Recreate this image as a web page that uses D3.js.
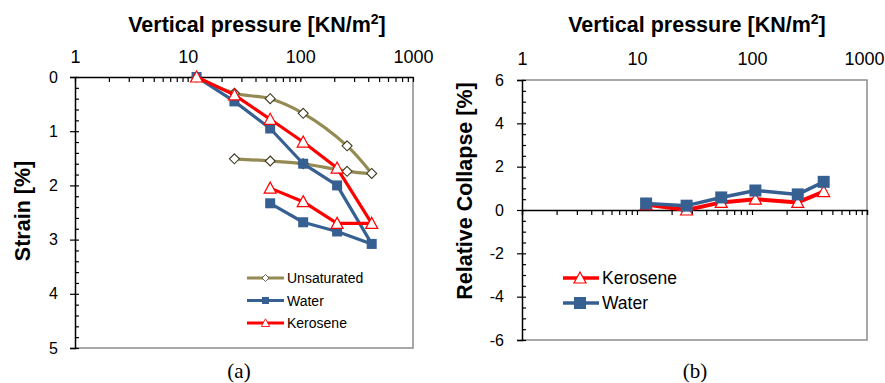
<!DOCTYPE html>
<html>
<head>
<meta charset="utf-8">
<script src="https://cdn.jsdelivr.net/npm/d3@7"></script>
<style>
  body { margin: 0; background: #fff; }
  svg { font-family: "Liberation Sans", Arial, sans-serif; }
</style>
</head>
<body>
<div id="chart"></div>
<script>
// ---- data ----
const unsatPressure = [12, 26, 54, 106, 260, 430, 260, 106, 54, 26];
const unsatStrain   = [0, 0.3, 0.4, 0.67, 1.27, 1.78, 1.74, 1.6, 1.55, 1.51];

const waterPressure = [12, 26, 54, 106, 212, 430, 212, 106, 54];
const waterStrain   = [0, 0.45, 0.95, 1.6, 2.0, 3.08, 2.85, 2.68, 2.33];

const keroPressure  = [12, 26, 54, 106, 212, 430, 212, 106, 54];
const keroStrain    = [0, 0.33, 0.78, 1.2, 1.68, 2.7, 2.7, 2.3, 2.05];

const collapsePressure = [12, 27, 54, 107, 250, 420];
const collapseKero     = [0.25, 0.0, 0.35, 0.5, 0.35, 0.85];
const collapseWater    = [0.3, 0.2, 0.58, 0.9, 0.72, 1.3];

const xTickLabels = [1, 10, 100, 1000];
const strainTicks = [0, 1, 2, 3, 4, 5];
const collapseTicks = [6, 4, 2, 0, -2, -4, -6];

const OLIVE = '#948a54', BLUE = '#376092', RED = '#ff0000';
const fmt = d => String(d);   // plain hyphen for negatives, like the original

const svg = d3.select('#chart').append('svg')
    .attr('width', 885).attr('height', 383);

const zip = (xs, ys) => xs.map((x, i) => ({x: x, y: ys[i]}));
const minorLog = [];
for (let d = 1; d < 1000; d *= 10) for (let k = 1; k < 10; k++) minorLog.push(d * k);
minorLog.push(1000);

function marker(g, data, x, y, kind, color, stroke, size) {
    const s = size || 5;
    const sel = g.selectAll(null).data(data).enter();
    if (kind === 'square') {
        sel.append('rect')
            .attr('x', d => x(d.x) - s).attr('y', d => y(d.y) - s)
            .attr('width', 2 * s).attr('height', 2 * s)
            .attr('fill', color);
    } else if (kind === 'triangle') {
        sel.append('path')
            .attr('d', d => `M${x(d.x)},${y(d.y) - 6}L${x(d.x) + 6},${y(d.y) + 5}L${x(d.x) - 6},${y(d.y) + 5}Z`)
            .attr('fill', '#fff').attr('stroke', color).attr('stroke-width', 1.2);
    } else {
        sel.append('path')
            .attr('d', d => `M${x(d.x)},${y(d.y) - 5}L${x(d.x) + 5},${y(d.y)}L${x(d.x)},${y(d.y) + 5}L${x(d.x) - 5},${y(d.y)}Z`)
            .attr('fill', '#fff').attr('stroke', stroke).attr('stroke-width', 1.1);
    }
}

function series(g, data, x, y, color, width, curve) {
    g.append('path')
        .datum(data)
        .attr('fill', 'none')
        .attr('stroke', color)
        .attr('stroke-width', width)
        .attr('stroke-linejoin', 'round')
        .attr('d', d3.line().x(d => x(d.x)).y(d => y(d.y)).curve(curve || d3.curveLinear));
}

function title(text, cx, cy, rotate) {
    const t = svg.append('text')
        .attr('text-anchor', 'middle')
        .attr('font-weight', 'bold')
        .attr('font-size', 21.5)
        .attr('transform', `translate(${cx},${cy})` + (rotate ? ' rotate(-90)' : ''));
    if (text.indexOf('m2') !== -1) {
        t.append('tspan').text(text.replace('m2]', 'm'));
        t.append('tspan').attr('font-size', 14).attr('dy', -8).text('2');
        t.append('tspan').attr('dy', 8).text(']');
    } else {
        t.text(text);
    }
}

const labelFont = g => g.selectAll('text').attr('font-family', 'Liberation Sans, Arial').attr('fill', '#000');

// ---------------- chart (a) ----------------
const A = {left: 75, right: 413, top: 77, bottom: 348};
const xa = d3.scaleLog().domain([1, 1000]).range([A.left, A.right]);
const ya = d3.scaleLinear().domain([0, 5]).range([A.top, A.bottom]);
const ga = svg.append('g');

// frame: gray right/bottom
ga.append('path')
    .attr('d', `M${A.right},${A.top}V${A.bottom}H${A.left}`)
    .attr('fill', 'none').attr('stroke', '#8c8c8c').attr('stroke-width', 1.5);

// top axis
ga.append('g').attr('transform', `translate(0,${A.top})`)
    .call(d3.axisTop(xa).tickValues(minorLog).tickSize(-5).tickFormat(''))
    .call(g => g.select('.domain').remove());
ga.append('g').attr('transform', `translate(0,${A.top})`)
    .call(d3.axisTop(xa).tickValues(xTickLabels).tickSize(0).tickPadding(14).tickFormat(fmt))
    .call(labelFont)
    .call(g => g.selectAll('text').attr('font-size', 18));

// left axis
ga.append('g').attr('transform', `translate(${A.left},0)`)
    .call(d3.axisRight(ya).tickValues(d3.range(0, 5.01, 0.2)).tickSize(4).tickFormat(''))
    .call(g => g.select('.domain').remove());
ga.append('g').attr('transform', `translate(${A.left},0)`)
    .call(d3.axisLeft(ya).tickValues(strainTicks).tickSize(5).tickPadding(12).tickFormat(fmt))
    .call(labelFont)
    .call(g => g.selectAll('text').attr('font-size', 16));
ga.selectAll('.domain').attr('stroke-width', 1.5);
ga.selectAll('.tick line').attr('stroke-width', 1.2);

const unsat = zip(unsatPressure, unsatStrain);
const water = zip(waterPressure, waterStrain);
const kero = zip(keroPressure, keroStrain);

series(ga, unsat.slice(0, 6), xa, ya, OLIVE, 3.2, d3.curveCatmullRom.alpha(0.5));
series(ga, unsat.slice(5), xa, ya, OLIVE, 3.2, d3.curveCatmullRom.alpha(0.5));
marker(ga, unsat, xa, ya, 'diamond', OLIVE, '#3d3a20');
series(ga, water, xa, ya, BLUE, 3.2);
marker(ga, water, xa, ya, 'square', BLUE);
series(ga, kero, xa, ya, RED, 3.2);
marker(ga, kero, xa, ya, 'triangle', RED);

// legend (a)
const legA = [['Unsaturated', OLIVE, 'diamond'], ['Water', BLUE, 'square'], ['Kerosene', RED, 'triangle']];
legA.forEach((l, i) => {
    const yy = 278 + i * 22.5;
    ga.append('line').attr('x1', 247).attr('x2', 284).attr('y1', yy).attr('y2', yy)
        .attr('stroke', l[1]).attr('stroke-width', 3.2);
    const g = ga.append('g').attr('transform', `translate(265.5,${yy}) scale(0.7)`);
    marker(g, [{x: 0, y: 0}], v => v, v => v, l[2], l[1], '#3d3a20');
    ga.append('text').attr('x', 287).attr('y', yy + 5).attr('font-size', 14).text(l[0]);
});

title('Strain [%]', 30, 211, true);
title('Vertical pressure [KN/m2]', 257, 32, false);

// ---------------- chart (b) ----------------
const B = {left: 522, right: 867, top: 80, bottom: 340};
const xb = d3.scaleLog().domain([1, 1000]).range([B.left, B.right]);
const yb = d3.scaleLinear().domain([-6, 6]).range([B.bottom, B.top]);
const gb = svg.append('g');

gb.append('path')
    .attr('d', `M${B.left},${B.top}H${B.right}V${B.bottom}H${B.left}`)
    .attr('fill', 'none').attr('stroke', '#8c8c8c').attr('stroke-width', 1.5);

// x axis on the zero line, labels on top
gb.append('g').attr('transform', `translate(0,${yb(0)})`)
    .call(d3.axisBottom(xb).tickValues(minorLog).tickSize(5).tickFormat(''))
    .call(g => g.select('.domain').attr('stroke-width', 1.3));
gb.append('g').attr('transform', `translate(0,${B.top})`)
    .call(d3.axisTop(xb).tickValues(xTickLabels).tickSize(0).tickPadding(15).tickFormat(fmt))
    .call(g => g.select('.domain').remove())
    .call(labelFont)
    .call(g => g.selectAll('text').attr('font-size', 18))
    // the last label sits against the page edge; keep it inside
    .call(g => g.selectAll('.tick').filter(d => d === 1000).select('text').attr('x', -3));

gb.append('g').attr('transform', `translate(${B.left},0)`)
    .call(d3.axisRight(yb).tickValues(d3.range(-6, 6.01, 0.5)).tickSize(4).tickFormat(''))
    .call(g => g.select('.domain').remove());
gb.append('g').attr('transform', `translate(${B.left},0)`)
    .call(d3.axisLeft(yb).tickValues(collapseTicks).tickSize(5).tickPadding(13).tickFormat(fmt))
    .call(g => g.select('.domain').attr('stroke-width', 1.5))
    .call(labelFont)
    .call(g => g.selectAll('text').attr('font-size', 16));
gb.selectAll('.tick line').attr('stroke-width', 1.2);

const cKero = zip(collapsePressure, collapseKero);
const cWater = zip(collapsePressure, collapseWater);
series(gb, cKero, xb, yb, RED, 4);
marker(gb, cKero, xb, yb, 'triangle', RED);
series(gb, cWater, xb, yb, BLUE, 3.5);
marker(gb, cWater, xb, yb, 'square', BLUE, null, 6);

const legB = [['Kerosene', RED, 'triangle'], ['Water', BLUE, 'square']];
legB.forEach((l, i) => {
    const yy = 278 + i * 25;
    gb.append('line').attr('x1', 563).attr('x2', 599).attr('y1', yy).attr('y2', yy)
        .attr('stroke', l[1]).attr('stroke-width', 3.5);
    const g = gb.append('g').attr('transform', `translate(580,${yy})`);
    marker(g, [{x: 0, y: 0}], v => v, v => v, l[2], l[1], null, 6);
    gb.append('text').attr('x', 602).attr('y', yy + 6).attr('font-size', 17.5).text(l[0]);
});

title('Relative Collapse [%]', 472, 191, true);
title('Vertical pressure [KN/m2]', 697, 32, false);

// captions
svg.append('text').attr('x', 239).attr('y', 378).attr('text-anchor', 'middle')
    .attr('font-family', 'Liberation Serif, Times New Roman, serif').attr('font-size', 21).text('(a)');
svg.append('text').attr('x', 695).attr('y', 378).attr('text-anchor', 'middle')
    .attr('font-family', 'Liberation Serif, Times New Roman, serif').attr('font-size', 21).text('(b)');
</script>
</body>
</html>
